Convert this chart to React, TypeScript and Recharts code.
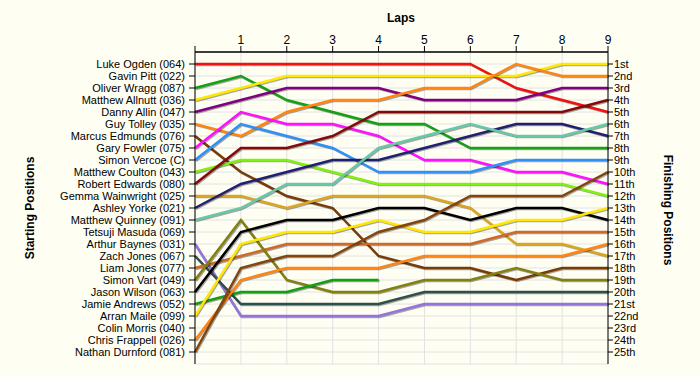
import React from 'react';
import { LineChart, Line, XAxis, YAxis, CartesianGrid } from 'recharts';

const LAPS = [0, 1, 2, 3, 4, 5, 6, 7, 8, 9];
const LAP_TICKS = [0, 1, 2, 3, 4, 5, 6, 7, 8, 9];

const STARTERS = [
  'Luke Ogden (064)', 'Gavin Pitt (022)', 'Oliver Wragg (087)', 'Matthew Allnutt (036)',
  'Danny Allin (047)', 'Guy Tolley (035)', 'Marcus Edmunds (076)', 'Gary Fowler (075)',
  'Simon Vercoe (C)', 'Matthew Coulton (043)', 'Robert Edwards (080)', 'Gemma Wainwright (025)',
  'Ashley Yorke (021)', 'Matthew Quinney (091)', 'Tetsuji Masuda (069)', 'Arthur Baynes (031)',
  'Zach Jones (067)', 'Liam Jones (077)', 'Simon Vart (049)', 'Jason Wilson (063)',
  'Jamie Andrews (052)', 'Arran Maile (099)', 'Colin Morris (040)', 'Chris Frappell (026)',
  'Nathan Durnford (081)',
];

const FINISH_LABELS = [
  '1st', '2nd', '3rd', '4th', '5th', '6th', '7th', '8th', '9th', '10th', '11th', '12th', '13th',
  '14th', '15th', '16th', '17th', '18th', '19th', '20th', '21st', '22nd', '23rd', '24th', '25th',
];

const POSITION_TICKS = [1, 2, 3, 4, 5, 6, 7, 8, 9, 10, 11, 12, 13, 14, 15, 16, 17, 18, 19, 20, 21, 22, 23, 24, 25];

// positions per lap (lap 0 = starting position)
const lukeOgden = [1, 1, 1, 1, 1, 1, 1, 3, 4, 5];
const oliverWragg = [3, 2, 4, 5, 6, 6, 8, 8, 8, 8];
const matthewAllnutt = [4, 3, 2, 2, 2, 2, 2, 2, 1, 1];
const dannyAllin = [5, 4, 3, 3, 3, 4, 4, 4, 3, 3];
const guyTolley = [6, 7, 5, 4, 4, 3, 3, 1, 2, 2];
const marcusEdmunds = [7, 10, 12, 13, 17, 18, 18, 19, 18, 18];
const garyFowler = [8, 5, 6, 6, 7, 9, 9, 10, 10, 11];
const simonVercoe = [9, 6, 7, 8, 10, 10, 10, 9, 9, 9];
const matthewCoulton = [10, 9, 9, 10, 11, 11, 11, 11, 11, 12];
const robertEdwards = [11, 8, 8, 7, 5, 5, 5, 5, 5, 4];
const gemmaWainwright = [12, 12, 13, 12, 12, 12, 13, 16, 16, 17];
const ashleyYorke = [13, 11, 10, 9, 9, 8, 7, 6, 6, 7];
const matthewQuinney = [14, 13, 11, 11, 8, 7, 6, 7, 7, 6];
const arthurBaynes = [16, 22, 22, 22, 22, 21, 21, 21, 21, 21];
const zachJones = [17, 21, 21, 21, 21, 20, 20, 20, 20, 20];
const liamJones = [18, 17, 16, 16, 16, 16, 16, 15, 15, 15];
const simonVart = [19, 14, 19, 20, 20, 19, 19, 18, 19, 19];
const jasonWilson = [20, 15, 14, 14, 13, 13, 14, 13, 13, 14];
const jamieAndrews = [21, 20, 20, 19, 19, null, null, null, null, null];
const arranMaile = [22, 16, 15, 15, 14, 15, 15, 14, 14, 13];
const chrisFrappell = [24, 19, 18, 18, 18, 17, 17, 17, 17, 16];
const nathanDurnford = [25, 18, 17, 17, 15, 14, 12, 12, 12, 10];

const SERIES = [
  { key: 'lukeOgden', values: lukeOgden, color: '#F01010' },
  { key: 'oliverWragg', values: oliverWragg, color: '#16A016' },
  { key: 'matthewAllnutt', values: matthewAllnutt, color: '#FFE800' },
  { key: 'dannyAllin', values: dannyAllin, color: '#800080' },
  { key: 'guyTolley', values: guyTolley, color: '#FF8410' },
  { key: 'marcusEdmunds', values: marcusEdmunds, color: '#7A3C06' },
  { key: 'garyFowler', values: garyFowler, color: '#FF10FF' },
  { key: 'simonVercoe', values: simonVercoe, color: '#2E90F8' },
  { key: 'matthewCoulton', values: matthewCoulton, color: '#80F010' },
  { key: 'robertEdwards', values: robertEdwards, color: '#820A0A' },
  { key: 'gemmaWainwright', values: gemmaWainwright, color: '#DAA520' },
  { key: 'ashleyYorke', values: ashleyYorke, color: '#202070' },
  { key: 'matthewQuinney', values: matthewQuinney, color: '#66C8A8' },
  { key: 'arthurBaynes', values: arthurBaynes, color: '#9474DC' },
  { key: 'zachJones', values: zachJones, color: '#2F4F4A' },
  { key: 'liamJones', values: liamJones, color: '#D0682A' },
  { key: 'simonVart', values: simonVart, color: '#848010' },
  { key: 'jasonWilson', values: jasonWilson, color: '#000000' },
  { key: 'jamieAndrews', values: jamieAndrews, color: '#12A012' },
  { key: 'arranMaile', values: arranMaile, color: '#FFE800' },
  { key: 'chrisFrappell', values: chrisFrappell, color: '#FF8410' },
  { key: 'nathanDurnford', values: nathanDurnford, color: '#84440E' },
];

const data = LAPS.map((lap, i) => {
  const row: Record<string, number | null> = { lap };
  SERIES.forEach((s) => {
    row[s.key] = s.values[i];
  });
  return row;
});

const FONT = '"Liberation Sans", Arial, sans-serif';
const BG = '#FFFEF3';

export default function App() {
  return (
    <div
      style={{
        position: 'absolute',
        left: 0,
        top: 0,
        width: 700,
        height: 375,
        background: BG,
        fontFamily: FONT,
      }}
    >
      <style>{`.recharts-line.shadowed .recharts-line-curve{filter:drop-shadow(1px 1.5px 0.4px rgba(0,0,0,0.35));}`}</style>
      <LineChart
        width={700}
        height={375}
        data={data}
        margin={{ top: 0, right: 0, bottom: 11, left: 0 }}
      >
        <CartesianGrid yAxisId="left" stroke="#E2E2E2" strokeWidth={1} />
        <XAxis
          dataKey="lap"
          type="number"
          orientation="top"
          domain={[0, 9]}
          ticks={LAP_TICKS}
          height={52}
          tickFormatter={(v: number) => (v === 0 ? '' : String(v))}
          tick={{ fill: '#000', fontSize: 12, fontFamily: FONT }}
          tickLine={{ stroke: '#000' }}
          axisLine={{ stroke: '#000', strokeWidth: 1.5 }}
          tickSize={6}
          tickMargin={2}
          allowDecimals={false}
        />
        <YAxis
          yAxisId="left"
          type="number"
          orientation="left"
          domain={[0, 26]}
          reversed
          ticks={POSITION_TICKS}
          interval={0}
          width={195}
          tickFormatter={(v: number) => STARTERS[v - 1] ?? ''}
          tick={{ fill: '#000', fontSize: 11, fontFamily: FONT }}
          tickLine={{ stroke: '#000' }}
          axisLine={{ stroke: '#000' }}
          tickSize={6}
          tickMargin={4}
        />
        <YAxis
          yAxisId="right"
          type="number"
          orientation="right"
          domain={[0, 26]}
          reversed
          ticks={POSITION_TICKS}
          interval={0}
          width={92}
          tickFormatter={(v: number) => FINISH_LABELS[v - 1] ?? ''}
          tick={{ fill: '#000', fontSize: 11, fontFamily: FONT }}
          tickLine={{ stroke: '#000' }}
          axisLine={{ stroke: '#000' }}
          tickSize={5}
          tickMargin={1}
        />
        <Line
          yAxisId="right"
          type="linear"
          dataKey="lukeOgden"
          stroke="none"
          strokeOpacity={0}
          dot={false}
          activeDot={false}
          isAnimationActive={false}
        />
        {SERIES.map((s) => (
          <Line
            key={s.key}
            className="shadowed"
            yAxisId="left"
            type="linear"
            dataKey={s.key}
            stroke={s.color}
            strokeWidth={2.5}
            dot={false}
            activeDot={false}
            connectNulls={false}
            isAnimationActive={false}
          />
        ))}
      </LineChart>
      <div
        style={{
          position: 'absolute',
          left: 401,
          top: 18,
          transform: 'translate(-50%, -50%)',
          fontWeight: 'bold',
          fontSize: 12,
          whiteSpace: 'nowrap',
        }}
      >
        Laps
      </div>
      <div
        style={{
          position: 'absolute',
          left: 30,
          top: 208,
          transform: 'translate(-50%, -50%) rotate(-90deg)',
          fontWeight: 'bold',
          fontSize: 12,
          whiteSpace: 'nowrap',
        }}
      >
        Starting Positions
      </div>
      <div
        style={{
          position: 'absolute',
          left: 668,
          top: 210,
          transform: 'translate(-50%, -50%) rotate(90deg)',
          fontWeight: 'bold',
          fontSize: 12,
          whiteSpace: 'nowrap',
        }}
      >
        Finishing Positions
      </div>
    </div>
  );
}
